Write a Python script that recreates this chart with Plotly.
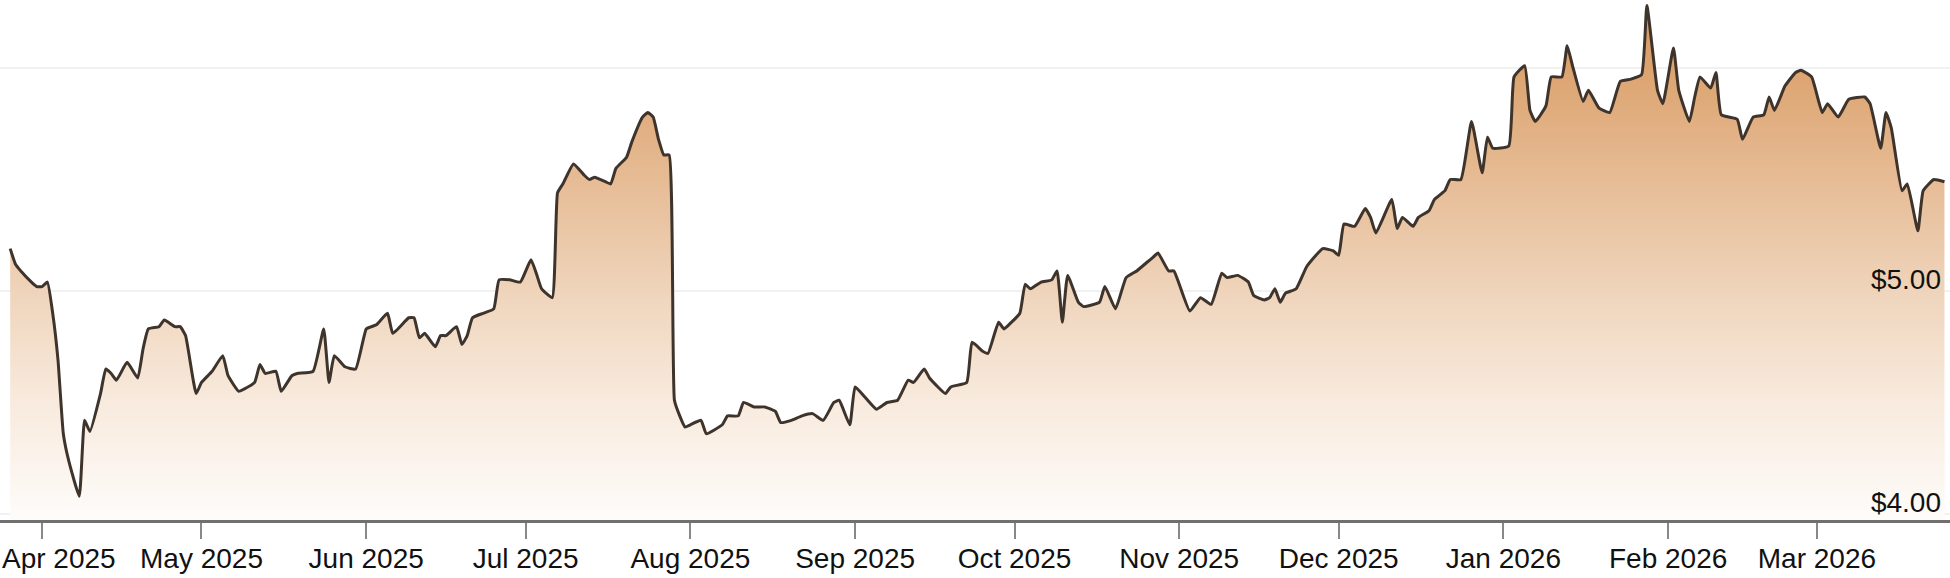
import plotly.graph_objects as go

dates = [
    "2025-03-26", "2025-03-27", "2025-03-28", "2025-03-30", "2025-03-31",
    "2025-04-01", "2025-04-02", "2025-04-03", "2025-04-04", "2025-04-05",
    "2025-04-06", "2025-04-08", "2025-04-09", "2025-04-10", "2025-04-12",
    "2025-04-13", "2025-04-14", "2025-04-15", "2025-04-17", "2025-04-19",
    "2025-04-20", "2025-04-21", "2025-04-23", "2025-04-24", "2025-04-26",
    "2025-04-27", "2025-04-28", "2025-04-30", "2025-05-01", "2025-05-03",
    "2025-05-05", "2025-05-06", "2025-05-08", "2025-05-09", "2025-05-11",
    "2025-05-12", "2025-05-13", "2025-05-15", "2025-05-16", "2025-05-18",
    "2025-05-19", "2025-05-22", "2025-05-24", "2025-05-25", "2025-05-26",
    "2025-05-28", "2025-05-30", "2025-06-01", "2025-06-02", "2025-06-03",
    "2025-06-05", "2025-06-06", "2025-06-09", "2025-06-10", "2025-06-11",
    "2025-06-12", "2025-06-14", "2025-06-15", "2025-06-16", "2025-06-18",
    "2025-06-19", "2025-06-20", "2025-06-21", "2025-06-23", "2025-06-25",
    "2025-06-26", "2025-06-28", "2025-06-30", "2025-07-02", "2025-07-03",
    "2025-07-04", "2025-07-06", "2025-07-07", "2025-07-08", "2025-07-10",
    "2025-07-12", "2025-07-13", "2025-07-14", "2025-07-16", "2025-07-17",
    "2025-07-18", "2025-07-20", "2025-07-21", "2025-07-23", "2025-07-24",
    "2025-07-25", "2025-07-26", "2025-07-27", "2025-07-28", "2025-07-29",
    "2025-07-30", "2025-07-31", "2025-08-01", "2025-08-03", "2025-08-04",
    "2025-08-07", "2025-08-08", "2025-08-10", "2025-08-11", "2025-08-13",
    "2025-08-15", "2025-08-17", "2025-08-18", "2025-08-20", "2025-08-22",
    "2025-08-24", "2025-08-26", "2025-08-28", "2025-08-29", "2025-08-31",
    "2025-09-01", "2025-09-03", "2025-09-05", "2025-09-07", "2025-09-09",
    "2025-09-11", "2025-09-12", "2025-09-14", "2025-09-15", "2025-09-18",
    "2025-09-19", "2025-09-22", "2025-09-23", "2025-09-25", "2025-09-26",
    "2025-09-28", "2025-09-29", "2025-09-30", "2025-10-02", "2025-10-03",
    "2025-10-04", "2025-10-06", "2025-10-08", "2025-10-09", "2025-10-10",
    "2025-10-11", "2025-10-13", "2025-10-14", "2025-10-17", "2025-10-18",
    "2025-10-20", "2025-10-22", "2025-10-24", "2025-10-26", "2025-10-27",
    "2025-10-28", "2025-10-30", "2025-10-31", "2025-11-01", "2025-11-03",
    "2025-11-05", "2025-11-07", "2025-11-09", "2025-11-10", "2025-11-12",
    "2025-11-14", "2025-11-15", "2025-11-17", "2025-11-18", "2025-11-19",
    "2025-11-20", "2025-11-21", "2025-11-23", "2025-11-25", "2025-11-28",
    "2025-11-30", "2025-12-01", "2025-12-02", "2025-12-04", "2025-12-06",
    "2025-12-07", "2025-12-08", "2025-12-11", "2025-12-12", "2025-12-13",
    "2025-12-15", "2025-12-16", "2025-12-18", "2025-12-19", "2025-12-21",
    "2025-12-22", "2025-12-24", "2025-12-26", "2025-12-28", "2025-12-29",
    "2025-12-30", "2026-01-02", "2026-01-03", "2026-01-05", "2026-01-06",
    "2026-01-07", "2026-01-09", "2026-01-10", "2026-01-12", "2026-01-13",
    "2026-01-14", "2026-01-16", "2026-01-17", "2026-01-19", "2026-01-21",
    "2026-01-23", "2026-01-25", "2026-01-27", "2026-01-28", "2026-01-30",
    "2026-01-31", "2026-02-02", "2026-02-03", "2026-02-05", "2026-02-06",
    "2026-02-07", "2026-02-09", "2026-02-10", "2026-02-11", "2026-02-14",
    "2026-02-15", "2026-02-17", "2026-02-19", "2026-02-20", "2026-02-21",
    "2026-02-23", "2026-02-25", "2026-02-26", "2026-02-28", "2026-03-02",
    "2026-03-03", "2026-03-05", "2026-03-07", "2026-03-10", "2026-03-11",
    "2026-03-13", "2026-03-14", "2026-03-15", "2026-03-17", "2026-03-18",
    "2026-03-20", "2026-03-21", "2026-03-23", "2026-03-25",
]

prices = [
    5.19, 5.12, 5.09, 5.04, 5.02,
    5.02, 5.04, 4.90, 4.69, 4.36,
    4.24, 4.08, 4.42, 4.37, 4.54,
    4.65, 4.63, 4.60, 4.68, 4.61,
    4.74, 4.83, 4.84, 4.87, 4.84,
    4.84, 4.80, 4.54, 4.59, 4.64,
    4.71, 4.62, 4.55, 4.56, 4.59,
    4.67, 4.63, 4.64, 4.55, 4.62,
    4.63, 4.64, 4.83, 4.59, 4.71,
    4.66, 4.65, 4.83, 4.84, 4.85,
    4.90, 4.81, 4.88, 4.88, 4.79,
    4.81, 4.75, 4.80, 4.80, 4.84,
    4.76, 4.80, 4.88, 4.90, 4.92,
    5.05, 5.05, 5.04, 5.14, 5.08,
    5.01, 4.97, 5.44, 5.48, 5.57,
    5.52, 5.50, 5.51, 5.49, 5.48,
    5.55, 5.60, 5.67, 5.78, 5.80,
    5.78, 5.68, 5.61, 5.61, 4.51,
    4.44, 4.39, 4.40, 4.42, 4.36,
    4.40, 4.44, 4.44, 4.50, 4.48,
    4.48, 4.46, 4.41, 4.42, 4.44,
    4.45, 4.42, 4.50, 4.51, 4.40,
    4.57, 4.52, 4.47, 4.50, 4.51,
    4.60, 4.59, 4.65, 4.61, 4.54,
    4.57, 4.59, 4.77, 4.73, 4.72,
    4.86, 4.83, 4.85, 4.90, 5.03,
    5.01, 5.04, 5.05, 5.09, 4.86,
    5.07, 4.95, 4.93, 4.95, 5.02,
    4.92, 5.06, 5.09, 5.13, 5.15,
    5.17, 5.09, 5.09, 5.03, 4.91,
    4.97, 4.94, 5.08, 5.06, 5.07,
    5.04, 4.98, 4.96, 4.97, 5.01,
    4.95, 4.99, 5.01, 5.11, 5.19,
    5.18, 5.16, 5.30, 5.29, 5.37,
    5.33, 5.26, 5.41, 5.28, 5.33,
    5.29, 5.33, 5.36, 5.41, 5.45,
    5.50, 5.50, 5.76, 5.53, 5.69,
    5.64, 5.65, 5.96, 6.01, 5.81,
    5.76, 5.83, 5.96, 5.96, 6.10,
    6.01, 5.85, 5.90, 5.82, 5.80,
    5.94, 5.95, 5.97, 6.28, 5.90,
    5.84, 6.09, 5.90, 5.76, 5.87,
    5.96, 5.91, 5.98, 5.79, 5.77,
    5.68, 5.78, 5.79, 5.87, 5.81,
    5.92, 5.98, 5.99, 5.96, 5.80,
    5.84, 5.78, 5.86, 5.87, 5.84,
    5.64, 5.80, 5.73, 5.45, 5.48,
    5.27, 5.45, 5.50, 5.49,
]

tick_dates = [
    "2025-04-01", "2025-05-01", "2025-06-01", "2025-07-01", "2025-08-01",
    "2025-09-01", "2025-10-01", "2025-11-01", "2025-12-01", "2026-01-01",
    "2026-02-01", "2026-03-01",
]
tick_labels = [
    "Apr 2025", "May 2025", "Jun 2025", "Jul 2025", "Aug 2025", "Sep 2025",
    "Oct 2025", "Nov 2025", "Dec 2025", "Jan 2026", "Feb 2026", "Mar 2026",
]
price_ticks = [4, 5, 6]
price_labels = ["$4.00", "$5.00", ""]

FONT = "Liberation Sans, Arial, sans-serif"

fig = go.Figure(
    go.Scatter(
        x=dates,
        y=prices,
        mode="lines",
        line=dict(color="#3e342c", width=3, shape="spline", smoothing=0.4),
        fill="tozeroy",
        fillgradient=dict(
            type="vertical",
            start=3.973,
            stop=6.305,
            colorscale=[
                [0.0, "#fefcfa"],
                [0.23, "#f8eadd"],
                [0.44, "#efd4bb"],
                [0.66, "#e6bb94"],
                [0.87, "#dca36f"],
                [1.0, "#d79860"],
            ],
        ),
        hoverinfo="skip",
        showlegend=False,
    )
)

fig.update_layout(
    width=1950,
    height=578,
    margin=dict(l=0, r=0, t=0, b=58),
    paper_bgcolor="white",
    plot_bgcolor="white",
    font=dict(family=FONT, size=28, color="#111111"),
)

# first month label sits flush with the left edge, as in the original
fig.add_annotation(
    x=0, xref="paper", xanchor="left",
    y=0, yref="paper", yanchor="middle", yshift=-38,
    text=tick_labels[0], showarrow=False,
    font=dict(family=FONT, size=28, color="#111111"),
)

fig.update_xaxes(
    type="date",
    range=["2025-03-24 02:00", "2026-03-26 01:00"],
    tickvals=tick_dates,
    ticktext=[""] + tick_labels[1:],
    ticks="outside",
    ticklen=16,
    tickwidth=1.5,
    tickcolor="#888888",
    ticklabelstandoff=-5,
    showline=True,
    linecolor="#707070",
    linewidth=3,
    showgrid=False,
    zeroline=False,
    tickfont=dict(size=28, color="#111111"),
)

fig.update_yaxes(
    range=[3.973, 6.305],
    side="right",
    tickvals=price_ticks,
    ticktext=price_labels,
    ticklabelposition="inside",
    ticklabeloverflow="allow",
    ticklabelshift=-12,
    ticklabelstandoff=6,
    ticks="",
    showgrid=True,
    gridcolor="#f1f1f1",
    gridwidth=2,
    zeroline=False,
    showline=False,
    tickfont=dict(size=28, color="#111111"),
)

fig.write_html(
    "out.html",
    config={"displayModeBar": False, "responsive": False},
    post_script="document.body.style.margin='0';document.body.style.overflow='hidden';",
)
